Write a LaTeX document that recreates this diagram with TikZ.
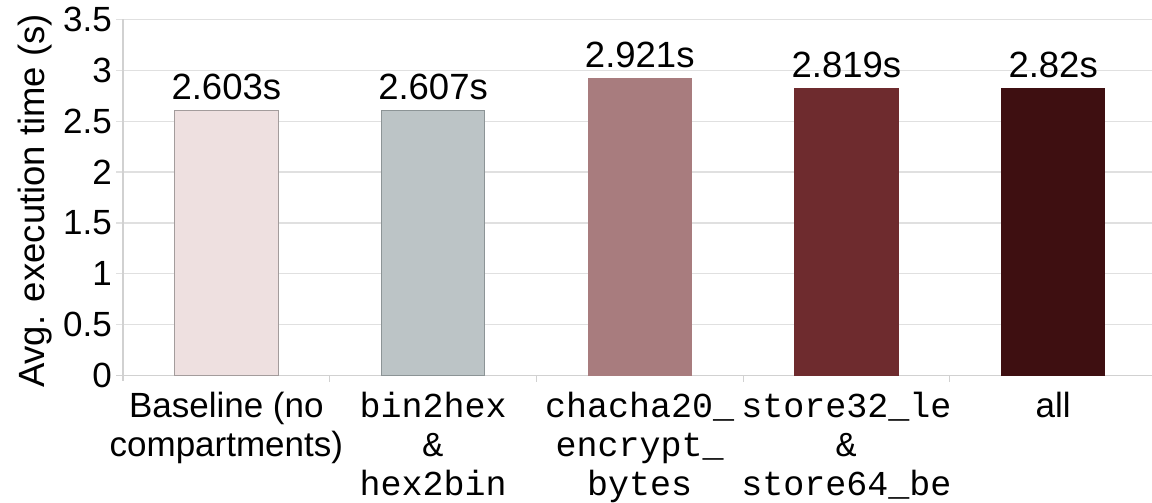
\documentclass[tikz,border=0pt]{standalone}
\usepackage{fontspec}
\setmainfont{Liberation Sans}
\setmonofont{Liberation Mono}
\begin{document}
\begin{tikzpicture}[x=1pt,y=1pt,
  lbl/.style={font=\fontsize{35}{39}\selectfont, inner sep=0pt},
  biglbl/.style={font=\fontsize{36.5}{39}\selectfont, inner sep=0pt},
  monolbl/.style={font=\fontsize{35}{39}\selectfont\ttfamily, inner sep=0pt, align=center, anchor=base},
  grid line/.style={draw=black!12, line width=1.2pt},
  axis line/.style={draw=black!18, line width=1.2pt},
  bar/.style={line width=1pt},
]
\definecolor{barA}{HTML}{EEE0E0}
\definecolor{barAline}{HTML}{A39C9C}
\definecolor{barB}{HTML}{BCC4C6}
\definecolor{barBline}{HTML}{8C9496}
\definecolor{barC}{HTML}{A87C7E}
\definecolor{barD}{HTML}{6E2B2E}
\definecolor{barE}{HTML}{3E0F11}
\useasboundingbox (0,0) rectangle (1152,503);
\fill[white] (0,0) rectangle (1152,503);
% y = 127.3 + 101.8*value ; category width 206.7 starting at x = 123
\def\yz{127.3}
\def\ys{101.8}
\def\cw{206.7}
% horizontal grid lines and y tick labels
\foreach \v in {0.5,1,1.5,2,2.5,3,3.5}{
  \draw[grid line] (116,{\yz+\ys*\v}) -- (1152,{\yz+\ys*\v});
}
\foreach \v/\t/\n in {0/0/t0,0.5/0.5/t1,1/1/t2,1.5/1.5/t3,2/2/t4,2.5/2.5/t5,3/3/t6,3.5/3.5/t7}{
  \node[lbl, anchor=east] (\n) at (112,{\yz+\ys*\v}) {\t};
}
% axes
\draw[axis line] (116,\yz) -- (1152,\yz);
\draw[axis line] (123,\yz-5) -- (123,{\yz+\ys*3.5});
\foreach \k in {1,2,3,4}{
  \draw[axis line] ({123+\cw*\k},\yz-6) -- ({123+\cw*\k},\yz);
}
% y axis title
\node[biglbl, rotate=90] (ytitle) at (35,302) {Avg. execution time (s)};
% bars with value labels
\foreach \k/\v/\f/\d/\txt in {0/2.603/barA/barAline/2.603s,1/2.607/barB/barBline/2.607s,2/2.921/barC/barC/2.921s,3/2.819/barD/barD/2.819s,4/2.82/barE/barE/2.82s}{
  \draw[bar, fill=\f, draw=\d] ({123+\cw*(\k+0.25)},\yz) rectangle ({123+\cw*(\k+0.75)},{\yz+\ys*\v});
  \node[biglbl, anchor=base] (val\k) at ({123+\cw*(\k+0.5)},{\yz+\ys*\v+11}) {\txt};
}
% category labels (anchored at the baseline of their last line)
\node[lbl, anchor=base, align=center] (c0) at ({123+\cw*0.5},46) {Baseline (no\\compartments)};
\node[monolbl] (c1) at ({123+\cw*1.5},7) {bin2hex\\\&\\hex2bin};
\node[monolbl] (c2) at ({123+\cw*2.5},7) {chacha20\_\\encrypt\_\\bytes};
\node[monolbl] (c3) at ({123+\cw*3.5},7) {store32\_le\\\&\\store64\_be};
\node[lbl, anchor=base] (c4) at ({123+\cw*4.5},85) {all};
\end{tikzpicture}
\end{document}
